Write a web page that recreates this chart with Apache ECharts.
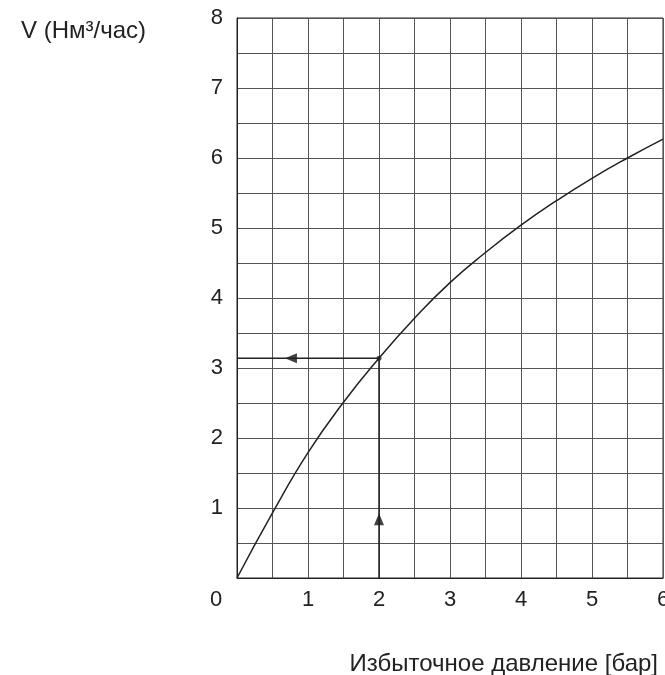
<!DOCTYPE html>
<html>
<head>
<meta charset="utf-8">
<script src="https://cdn.jsdelivr.net/npm/echarts@6/dist/echarts.min.js"></script>
<style>
  html, body { margin: 0; padding: 0; background: #fff; }
  #chart { width: 665px; height: 675px; }
</style>
</head>
<body>
<div id="chart"></div>
<script>
// Flow rate curve vs. gauge pressure
const pressure = [0, 0.5, 1, 1.5, 2, 2.5, 3, 3.5, 4, 4.5, 5, 5.5, 6];
const flow     = [0, 0.93, 1.79, 2.51, 3.14, 3.71, 4.22, 4.65, 5.04, 5.39, 5.71, 6.00, 6.27];

// Worked reading: 2 bar -> ~3.14 Nm3/h
const readPressure = 2;
const readFlow = 3.14;
const leftArrowAt = 0.76;  // pressure where the leftward arrowhead sits
const upArrowAt = 0.84;    // flow where the upward arrowhead sits

const xTicks = [0, 1, 2, 3, 4, 5, 6];
const yTicks = [1, 2, 3, 4, 5, 6, 7, 8];

const yTitle = 'V (Нм³/час)';
const xTitle = 'Избыточное давление [бар]';

const ink = '#222';
const gridInk = '#555';
const font = '"Liberation Sans", Arial, sans-serif';

const chart = echarts.init(document.getElementById('chart'));
chart.setOption({
  animation: false,
  backgroundColor: '#fff',
  title: [
    { text: yTitle, left: 16, top: 14,
      textStyle: { fontFamily: font, fontSize: 24, fontWeight: 'normal', color: ink } },
    { text: xTitle, right: 2, top: 647,
      textStyle: { fontFamily: font, fontSize: 24, fontWeight: 'normal', color: ink } }
  ],
  grid: { left: 237, right: 2, top: 18, bottom: 97, show: true,
          outerBoundsMode: 'none', containLabel: false,
          borderColor: ink, borderWidth: 1, backgroundColor: 'transparent' },
  xAxis: {
    type: 'value', min: 0, max: 6, interval: 0.5,
    axisLine: { show: true, lineStyle: { color: ink, width: 1 } },
    axisTick: { show: false },
    splitLine: { show: true, lineStyle: { color: gridInk, width: 1 } },
    axisLabel: {
      margin: 11, fontFamily: font, fontSize: 22, color: ink,
      formatter: v => xTicks.includes(v) ? (v === 0 ? '{z|0}' : String(v)) : '',
      rich: { z: { fontFamily: font, fontSize: 22, color: ink, padding: [0, 42, 0, 0] } }
    }
  },
  yAxis: {
    type: 'value', min: 0, max: 8, interval: 0.5,
    axisLine: { show: true, lineStyle: { color: ink, width: 1 } },
    axisTick: { show: false },
    splitLine: { show: true, lineStyle: { color: gridInk, width: 1 } },
    axisLabel: {
      margin: 14, fontFamily: font, fontSize: 22, color: ink,
      formatter: v => yTicks.includes(v) ? String(v) : ''
    }
  },
  series: [
    {
      type: 'line', smooth: true, symbol: 'none',
      data: pressure.map((p, i) => [p, flow[i]]),
      lineStyle: { color: ink, width: 1.5 }
    },
    {
      type: 'line', symbol: 'none',
      data: [[0, readFlow], [readPressure, readFlow]],
      lineStyle: { color: ink, width: 1.5 }
    },
    {
      type: 'line', symbol: 'none',
      data: [[readPressure, 0], [readPressure, readFlow]],
      lineStyle: { color: ink, width: 1.5 }
    },
    {
      type: 'scatter', symbol: 'circle', symbolSize: 5,
      data: [[readPressure, readFlow]],
      itemStyle: { color: ink }
    },
    {
      type: 'scatter', symbol: 'triangle', symbolSize: [10, 12], symbolRotate: 90,
      data: [[leftArrowAt, readFlow]],
      itemStyle: { color: '#111' }
    },
    {
      type: 'scatter', symbol: 'triangle', symbolSize: [10, 12],
      data: [[readPressure, upArrowAt]],
      itemStyle: { color: '#111' }
    }
  ]
});
</script>
</body>
</html>
